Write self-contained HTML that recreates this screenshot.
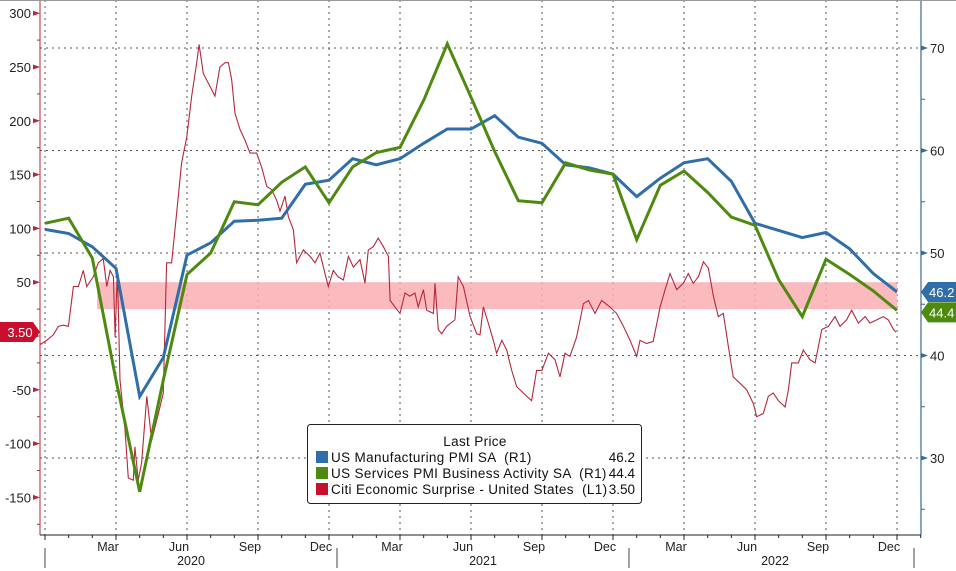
<!DOCTYPE html>
<html><head><meta charset="utf-8"><style>
html,body{margin:0;padding:0;background:#fff;}
svg{display:block;font-family:"Liberation Sans",sans-serif;}
.lg{letter-spacing:0.35px;}
</style></head><body>
<svg id="chart" width="956" height="571" viewBox="0 0 956 571" xmlns="http://www.w3.org/2000/svg">
<g id="grid"></g>
<rect id="band" fill="#f9aeb3" opacity="0.85"></rect>
<g id="series"></g>
<g id="axes"></g>
<g>
<rect x="307.5" y="424.5" width="334" height="79" rx="3" fill="#fff" stroke="#222" stroke-width="1"></rect>
<text x="475" y="446" font-size="13.5" text-anchor="middle" fill="#111" class="lg">Last Price</text>
<g><rect x="316" y="451" width="12" height="12" fill="#2f6ea8"></rect><text x="331" y="462" font-size="13.5" fill="#111" class="lg" xml:space="preserve">US Manufacturing PMI SA  (R1)</text><text x="635" y="462" font-size="13.5" fill="#111" text-anchor="end">46.2</text></g>
<g><rect x="316" y="467" width="12" height="12" fill="#4f8a10"></rect><text x="331" y="478" font-size="13.5" fill="#111" class="lg" xml:space="preserve">US Services PMI Business Activity SA  (R1)</text><text x="635" y="478" font-size="13.5" fill="#111" text-anchor="end">44.4</text></g>
<g><rect x="316" y="483" width="12" height="12" fill="#c8102e"></rect><text x="331" y="494" font-size="13.5" fill="#111" class="lg" xml:space="preserve">Citi Economic Surprise - United States  (L1)</text><text x="635" y="494" font-size="13.5" fill="#111" text-anchor="end">3.50</text></g>
</g>
</svg>
<script>
// PMI monthly, index 0 = Dec 2019 ... 36 = Dec 2022
const manufacturing = [52.3,51.9,50.6,48.5,36.0,39.8,49.8,51.0,53.1,53.2,53.4,56.7,57.1,59.2,58.6,59.2,60.7,62.1,62.1,63.4,61.3,60.7,58.6,58.3,57.7,55.5,57.3,58.8,59.2,57.0,52.9,52.2,51.5,52.0,50.4,48.0,46.2];
const services = [52.9,53.4,49.5,37.6,26.7,37.6,47.9,50.0,55.0,54.7,56.9,58.4,54.9,58.4,59.8,60.3,64.9,70.4,65.2,59.9,55.1,54.9,58.8,58.1,57.7,51.3,56.6,58.0,55.9,53.5,52.7,47.4,43.8,49.4,47.9,46.3,44.4];
// Citi surprise: month position (0 = Dec 2019) and value
const citiMonth = [-0.21,0.07,0.35,0.56,0.77,0.99,1.2,1.41,1.62,1.76,2.04,2.25,2.46,2.61,2.75,2.89,2.96,3.06,3.17,3.38,3.52,3.73,3.8,3.94,4.08,4.3,4.51,4.79,5.0,5.14,5.35,5.56,5.77,5.99,6.2,6.41,6.51,6.69,6.97,7.18,7.39,7.61,7.75,7.89,8.03,8.24,8.45,8.66,8.94,9.15,9.37,9.58,9.79,9.93,10.14,10.28,10.49,10.63,10.92,11.2,11.41,11.62,11.83,11.97,12.18,12.39,12.61,12.82,13.03,13.31,13.52,13.66,13.87,14.08,14.3,14.51,14.58,14.79,15.0,15.21,15.42,15.63,15.77,15.99,16.13,16.41,16.48,16.62,16.76,16.97,17.32,17.46,17.68,17.96,18.24,18.38,18.52,18.73,18.94,19.08,19.3,19.51,19.72,19.93,20.21,20.56,20.77,20.99,21.27,21.55,21.76,21.97,22.18,22.46,22.75,22.96,23.24,23.52,23.87,24.15,24.44,24.72,25.0,25.14,25.42,25.7,25.99,26.2,26.41,26.69,26.97,27.18,27.39,27.61,27.82,28.03,28.24,28.45,28.66,28.94,29.08,29.37,29.65,29.93,30.07,30.35,30.56,30.77,30.99,31.27,31.41,31.55,31.83,32.04,32.32,32.54,32.82,33.1,33.38,33.59,33.87,34.08,34.37,34.65,34.86,35.14,35.42,35.63,35.85,35.95];
const citiValue = [-8,-4,1,9,10,9,46,46,61,46,55,68,72,46,61,55,-1,61,-41,-87,-132,-134,-103,-134,-118,-56,-97,-72,-53,68,68,114,161,185,223,254,271,244,232,223,250,254,254,238,207,192,182,170,170,157,139,136,126,116,130,111,99,68,80,74,68,77,58,46,61,55,52,74,64,71,49,80,83,91,83,74,33,27,21,40,37,40,27,43,24,21,49,6,2,9,15,55,46,18,2,1,27,12,-4,-16,-4,-13,-32,-47,-53,-60,-32,-32,-16,-22,-38,-16,-19,-1,30,33,21,33,27,21,9,-4,-19,-4,-7,-5,27,43,58,43,49,58,49,55,69,63,37,18,21,-19,-38,-44,-50,-63,-75,-72,-56,-53,-60,-66,-50,-25,-25,-13,-22,-25,6,9,18,9,15,24,12,18,12,15,18,15,6,3.5];
const leftTicks = [300,250,200,150,100,50,0,-50,-100,-150];
const rightTicks = [70,60,50,40,30];
const monthLabels = ["Mar","Jun","Sep","Dec","Mar","Jun","Sep","Dec","Mar","Jun","Sep","Dec"];
const yearLabels = ["2020","2021","2022"];
const band = [25,50];

const NS="http://www.w3.org/2000/svg";
const PL=40, PR=921, PT=0, PB=535;
const xM = m => 45 + m*23.667;
const yL = v => 336 - v*1.076;
const yR = v => 253 - (v-50)*10.25;
function mk(tag, attrs, parent){const e=document.createElementNS(NS,tag);for(const k in attrs)e.setAttribute(k,attrs[k]);parent.appendChild(e);return e;}
const grid=document.getElementById('grid'), axes=document.getElementById('axes'), ser=document.getElementById('series');

for(let q=0;q<=12;q++){const x=xM(q*3);
  const l=mk('line',{x1:x,x2:x,y1:PT,y2:PB,stroke:'#555','stroke-width':1,'stroke-dasharray':'2,4'},grid);
  
  }
for(const t of rightTicks){const y=yR(t);
  const l=mk('line',{x1:PL,x2:PR,y1:y,y2:y,stroke:'#555','stroke-width':1,'stroke-dasharray':'2,4'},grid);
  
  }

const b=document.getElementById('band');
b.setAttribute('x',xM(2.2));b.setAttribute('width',xM(36)-xM(2.2));
b.setAttribute('y',yL(band[1]));b.setAttribute('height',yL(band[0])-yL(band[1]));

let d='';citiMonth.forEach((m,i)=>{d+=(i?'L':'M')+Math.max(PL,xM(m)).toFixed(1)+','+yL(citiValue[i]).toFixed(1);});
const pc=mk('path',{d:d,fill:'none',stroke:'#b5283c','stroke-width':1.1},ser);


function pline(arr,col,name){let s='';arr.forEach((v,i)=>{s+=(i?'L':'M')+xM(i).toFixed(1)+','+yR(v).toFixed(1);});
  const p=mk('path',{d:s,fill:'none',stroke:col,'stroke-width':3,'stroke-linejoin':'miter'},ser);
  
  }
pline(manufacturing,'#2f6ea8','manufacturing-pmi-line');
pline(services,'#4f8a10','services-pmi-line');

mk('line',{x1:PL,x2:PL,y1:0,y2:PB,stroke:'#b5283c','stroke-width':1},axes);
mk('line',{x1:PR,x2:PR,y1:0,y2:PB,stroke:'#3a6a90','stroke-width':1.2},axes);
mk('line',{x1:PL,x2:PR,y1:PB,y2:PB,stroke:'#222','stroke-width':1},axes);
mk('line',{x1:0,x2:956,y1:0.5,y2:0.5,stroke:'#999','stroke-width':1},axes);

for(const t of leftTicks){const y=yL(t);
  mk('path',{d:`M${PL},${y}l-7,-2.5v5z`,fill:'#b5283c'},axes);
  const tx=mk('text',{x:31,y:y+5,'font-size':13,'text-anchor':'end',fill:'#222'},axes);tx.textContent=t;
  
  }
for(let t=275;t>=-175;t-=50){const y=yL(t);mk('line',{x1:PL-3,x2:PL,y1:y,y2:y,stroke:'#b5283c'},axes);}
for(const t of rightTicks){const y=yR(t);
  mk('path',{d:`M${PR},${y-2.5}l7,2.5l-7,2.5z`,fill:'#3a6a90'},axes);
  const tx=mk('text',{x:930,y:y+5,'font-size':13,fill:'#222'},axes);tx.textContent=t;
  
  }
for(let t=75;t>=25;t-=10){const y=yR(t);mk('line',{x1:PR,x2:PR+4,y1:y,y2:y,stroke:'#3a6a90'},axes);}

for(let m=0;m<=37;m++){const x=xM(m);if(x>PR)break;mk('line',{x1:x,x2:x,y1:PB,y2:PB+(m%3==0?5:3),stroke:'#222'},axes);}
monthLabels.forEach((lab,i)=>{const tx=mk('text',{x:xM(3+i*3)-8,y:PB+16,'font-size':12.5,'text-anchor':'middle',fill:'#222'},axes);tx.textContent=lab;
  
  });
[45,337,629,914].forEach(x=>mk('line',{x1:x,x2:x,y1:PB+13,y2:568,stroke:'#444'},axes));
yearLabels.forEach((lab,i)=>{const tx=mk('text',{x:191+i*292,y:PB+30,'font-size':12.5,'text-anchor':'middle',fill:'#222'},axes);tx.textContent=lab;
  
  });

function tag(x,y,col,txt,name,left){const g=mk('g',{},axes);
  
  
  if(left){mk('path',{d:`M0,${y-10}H33L40,${y}L33,${y+10}H0z`,fill:col},g);}
  else{mk('path',{d:`M${x},${y}L${x+7},${y-10}H956V${y+10}H${x+7}z`,fill:col},g);}
  const t=mk('text',{x:left?20:x+8,y:y+5,'font-size':13,fill:'#fff','text-anchor':left?'middle':'start'},g);t.textContent=txt;}
tag(921,yR(manufacturing[36]),'#2f6ea8','46.2','manufacturing-last-value-tag',false);
tag(921,yR(services[36])+2,'#4f8a10','44.4','services-last-value-tag',false);
tag(0,332,'#c8102e','3.50','citi-last-value-tag',true);
</script>
</body></html>
